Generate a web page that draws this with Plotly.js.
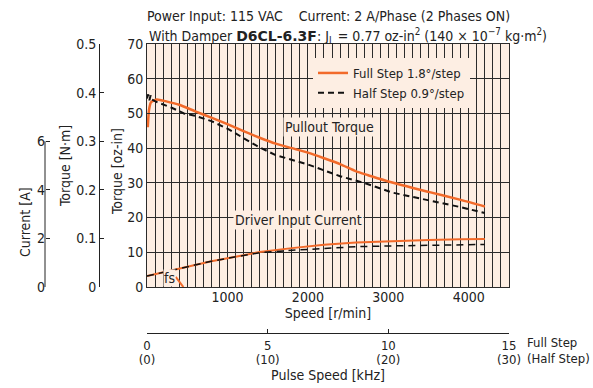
<!DOCTYPE html>
<html>
<head>
<meta charset="utf-8">
<script src="https://cdn.plot.ly/plotly-3.0.1.min.js"></script>
<style>html,body{margin:0;padding:0;background:#fff;}#chart{width:593px;height:388px;}</style>
</head>
<body>
<div id="chart"></div>
<script>
// Pullout torque, full step 1.8°/step [r/min, oz-in]
const speedFull = [10, 25, 50, 120, 250, 400, 600, 800, 1000, 1200, 1400, 1600, 1800, 2000, 2200, 2400, 2600, 2750, 3000, 3500, 3900, 4200];
const torqueFull = [46, 51, 53.2, 54, 53.4, 52.5, 50.6, 48.8, 46.9, 44.9, 43.0, 41.3, 40.0, 38.7, 37.1, 35.4, 33.3, 32.2, 30.4, 27.4, 25.1, 23.2];
// Pullout torque, half step 0.9°/step
const speedHalf = [0, 15, 30, 45, 60, 130, 300, 460, 600, 800, 1000, 1200, 1400, 1600, 2000, 2400, 2700, 3050, 3500, 3900, 4200];
const torqueHalf = [54.3, 55.5, 53.8, 55.2, 54.0, 53.2, 51.7, 50.0, 49.3, 47.8, 45.6, 42.8, 40.2, 38.0, 35.3, 31.9, 30.0, 27.2, 25.0, 23.0, 21.3];
// Driver input current [A]
const speedCurrent = [0, 400, 800, 1200, 1400, 1800, 2200, 2600, 3000, 3500, 3900, 4200];
const currentFull = [0.45, 0.77, 1.06, 1.31, 1.44, 1.60, 1.74, 1.83, 1.88, 1.93, 1.96, 1.98];
const currentHalf = [0.45, 0.77, 1.06, 1.30, 1.41, 1.51, 1.60, 1.66, 1.69, 1.71, 1.73, 1.75];
// Starting pulse rate fs
const speedFs = [357, 452];
const torqueFs = [2.9, 0];
// Pulse speed axis [kHz]
const pulseTicks = [0, 5, 10, 15];
const pulseFullLabels = ['0', '5', '10', '15'];
const pulseHalfLabels = ['(0)', '(10)', '(20)', '(30)'];
// Current axis ticks [A]
const currentTicks = [0, 2, 4, 6];

const ORANGE = '#f26a2a';
const BG = '#fdeee3';
const GRID = '#2b2b2b';
const TXT = '#222222';
const FONT = "'DejaVu Sans Condensed', 'Liberation Sans Narrow', 'Arial Narrow', sans-serif";

const traces = [
  {x: speedCurrent, y: currentFull, yaxis: 'y3', mode: 'lines', line: {color: ORANGE, width: 2}, showlegend: false, hoverinfo: 'skip'},
  {x: speedCurrent, y: currentHalf, yaxis: 'y3', mode: 'lines', line: {color: '#111', width: 1.5, dash: '7px,5px'}, showlegend: false, hoverinfo: 'skip'},
  {x: speedFs, y: torqueFs, mode: 'lines', line: {color: ORANGE, width: 2}, showlegend: false, hoverinfo: 'skip'},
  {x: speedFull, y: torqueFull, mode: 'lines', name: 'Full Step 1.8°/step', line: {color: ORANGE, width: 2.5, shape: 'spline', smoothing: 0.6}},
  {x: speedHalf, y: torqueHalf, mode: 'lines', name: 'Half Step 0.9°/step', line: {color: '#111', width: 2, dash: '6px,4px'}},
  {x: pulseTicks, y: [null, null, null, null], xaxis: 'x2', yaxis: 'y2', mode: 'lines', showlegend: false, hoverinfo: 'skip'},
  {x: pulseTicks, y: [null, null, null, null], xaxis: 'x3', yaxis: 'y2', mode: 'lines', showlegend: false, hoverinfo: 'skip'}
];

const pl = 20, pw = 489, pt = 44, ph = 289;
const px = v => (v - pl) / pw;
const py = v => (pt + ph - v) / ph;

const layout = {
  width: 593, height: 388,
  margin: {l: pl, r: 84, t: pt, b: 55, pad: 0},
  paper_bgcolor: '#ffffff',
  plot_bgcolor: BG,
  font: {family: FONT, size: 14, color: TXT},
  title: {
    text: 'Power Input: 115 VAC\u00a0\u00a0\u00a0\u00a0Current: 2 A/Phase (2 Phases ON)',
    x: px(147), xref: 'paper', xanchor: 'left',
    y: 1 - 16 / 388, yref: 'container', yanchor: 'middle',
    font: {family: FONT, size: 14, color: TXT}
  },
  showlegend: true,
  legend: {
    x: px(470), xanchor: 'right', y: py(58), yanchor: 'top',
    bgcolor: BG, borderwidth: 0, font: {family: FONT, size: 13, color: TXT},
    tracegroupgap: 0, itemwidth: 30
  },
  xaxis: {
    domain: [px(147), 1], range: [0, 4500], anchor: 'y',
    tickvals: [1000, 2000, 3000, 4000], ticks: '', showline: true, mirror: true, linecolor: GRID, linewidth: 1,
    showgrid: true, gridcolor: GRID, gridwidth: 1, zeroline: false,
    minor: {dtick: 100, tick0: 0, showgrid: true, gridcolor: GRID, gridwidth: 1, ticks: ''},
    tickfont: {size: 14}, ticklabelstandoff: -3,
    title: {text: 'Speed [r/min]', standoff: 2, font: {size: 14}}
  },
  xaxis2: {
    overlaying: 'x', anchor: 'free', position: 0, side: 'bottom', range: [0, 15],
    tickvals: pulseTicks, ticktext: pulseFullLabels, ticks: 'inside', ticklen: 4, tickcolor: TXT,
    showline: true, linecolor: TXT, linewidth: 1, showgrid: false, zeroline: false,
    tickfont: {size: 13}, ticklabelstandoff: 0
  },
  xaxis3: {
    overlaying: 'x', anchor: 'free', position: 0, side: 'bottom', range: [0, 15],
    tickvals: pulseTicks, ticktext: pulseHalfLabels, ticks: '', showline: false, showgrid: false, zeroline: false,
    tickfont: {size: 13}, ticklabelstandoff: 17,
    title: {text: 'Pulse Speed [kHz]', standoff: 3, font: {size: 14}}
  },
  yaxis: {
    domain: [py(287), 1], range: [0, 70], dtick: 10, anchor: 'x',
    ticks: 'inside', ticklen: 4, tickcolor: GRID, showline: true, mirror: true, linecolor: GRID,
    showgrid: true, gridcolor: GRID, gridwidth: 1, zeroline: false, tickfont: {size: 14}
  },
  yaxis2: {
    overlaying: 'y', anchor: 'free', position: px(99), side: 'left', range: [0, 0.5], dtick: 0.1,
    ticks: 'inside', ticklen: 4, tickcolor: TXT, showline: true, linecolor: TXT, showgrid: false, zeroline: false,
    tickfont: {size: 14}
  },
  yaxis3: {
    overlaying: 'y', anchor: 'free', position: px(45), side: 'left', range: [0, 10],
    tickvals: currentTicks, ticks: 'inside', ticklen: 4, tickcolor: TXT, showline: false, showgrid: false, zeroline: false,
    tickfont: {size: 14}
  },
  shapes: [
    {type: 'line', xref: 'paper', yref: 'y3', x0: px(45), x1: px(45), y0: 0, y1: 6, line: {color: TXT, width: 1}}
  ],
  annotations: [
    {text: 'With Damper <span style="font-family:DejaVu Sans;font-weight:bold;font-size:14px">D6CL-6.3F</span>: J<sub>L</sub> = 0.77 oz-in<sup>2</sup> (140 × 10<sup>−7</sup> kg·m<sup>2</sup>)',
     xref: 'paper', yref: 'paper', x: px(147), y: py(36), xanchor: 'left', yanchor: 'middle', showarrow: false, font: {size: 14}},
    {text: 'Current [A]', xref: 'paper', yref: 'paper', x: px(25), y: py(222), textangle: -90, showarrow: false, xanchor: 'center', yanchor: 'middle'},
    {text: 'Torque [N·m]', xref: 'paper', yref: 'paper', x: px(65), y: py(166), textangle: -90, showarrow: false, xanchor: 'center', yanchor: 'middle'},
    {text: 'Torque [oz-in]', xref: 'paper', yref: 'paper', x: px(117), y: py(172), textangle: -90, showarrow: false, xanchor: 'center', yanchor: 'middle'},
    {text: 'Pullout Torque', x: 2266, y: 46, showarrow: false, bgcolor: BG, borderpad: 1},
    {text: 'Driver Input Current', x: 1880, y: 19.3, showarrow: false, bgcolor: BG, borderpad: 1},
    {text: 'fs', x: 274, y: 2.5, showarrow: false, bgcolor: BG, borderpad: 0},
    {text: 'Full Step', xref: 'paper', yref: 'paper', x: px(525), y: py(342), xanchor: 'left', yanchor: 'middle', showarrow: false, font: {size: 13}},
    {text: '(Half Step)', xref: 'paper', yref: 'paper', x: px(525), y: py(358), xanchor: 'left', yanchor: 'middle', showarrow: false, font: {size: 13}}
  ]
};

Plotly.newPlot('chart', traces, layout, {displayModeBar: false, staticPlot: true});
</script>
</body>
</html>
